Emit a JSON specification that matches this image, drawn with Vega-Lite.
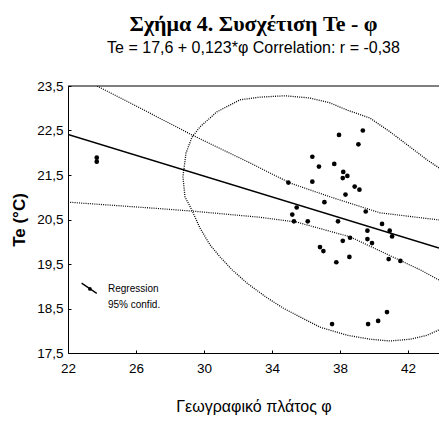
{
  "$schema": "https://vega.github.io/schema/vega-lite/v6.json",
  "width": 371,
  "height": 267,
  "autosize": "none",
  "padding": {"left": 68, "top": 86, "right": 0, "bottom": 68},
  "background": "white",
  "config": {
    "view": {"stroke": null},
    "axis": {"labelFont": "Liberation Sans", "labelFontSize": 13.5, "labelColor": "black", "domainColor": "black", "tickColor": "black", "grid": false}
  },
  "title": {
    "text": "Σχήμα 4.  Συσχέτιση Te - φ",
    "subtitle": "Te = 17,6 + 0,123*φ  Correlation: r = -0,38",
    "font": "Liberation Serif",
    "fontSize": 22,
    "fontWeight": "bold",
    "color": "black",
    "subtitleFont": "Liberation Sans",
    "subtitleFontSize": 16,
    "subtitleColor": "black",
    "subtitlePadding": 4,
    "anchor": "middle",
    "offset": 22
  },
  "datasets": {
    "points": [
      {"phi": 37.94, "te": 22.40}, {"phi": 39.34, "te": 22.50}, {"phi": 39.08, "te": 22.19},
      {"phi": 36.37, "te": 21.91}, {"phi": 36.76, "te": 21.69}, {"phi": 37.66, "te": 21.75},
      {"phi": 38.19, "te": 21.57}, {"phi": 38.43, "te": 21.48}, {"phi": 38.16, "te": 21.43},
      {"phi": 36.37, "te": 21.35}, {"phi": 34.96, "te": 21.33}, {"phi": 38.86, "te": 21.24},
      {"phi": 39.14, "te": 21.17}, {"phi": 38.32, "te": 21.06}, {"phi": 37.08, "te": 20.89},
      {"phi": 35.45, "te": 20.77}, {"phi": 35.19, "te": 20.61}, {"phi": 35.29, "te": 20.46},
      {"phi": 36.10, "te": 20.46}, {"phi": 37.88, "te": 20.46}, {"phi": 39.51, "te": 20.68},
      {"phi": 40.47, "te": 20.40}, {"phi": 39.61, "te": 20.25}, {"phi": 40.92, "te": 20.25},
      {"phi": 41.06, "te": 20.12}, {"phi": 39.61, "te": 20.06}, {"phi": 38.59, "te": 20.09},
      {"phi": 38.16, "te": 20.02}, {"phi": 39.88, "te": 19.97}, {"phi": 36.82, "te": 19.88},
      {"phi": 37.02, "te": 19.79}, {"phi": 37.78, "te": 19.54}, {"phi": 38.55, "te": 19.66},
      {"phi": 40.86, "te": 19.61}, {"phi": 41.55, "te": 19.57}, {"phi": 37.53, "te": 18.15},
      {"phi": 39.65, "te": 18.15}, {"phi": 40.24, "te": 18.22}, {"phi": 40.76, "te": 18.42},
      {"phi": 23.69, "te": 21.89}, {"phi": 23.69, "te": 21.80}
    ],
    "regression": [
      {"phi": 22.0, "te": 22.41}, {"phi": 43.82, "te": 19.86}
    ],
    "frameTop": [
      {"phi": 22.0, "phi2": 43.82, "te": 23.5}
    ],
    "upper": [
      {"phi": 22.0, "te": 23.85}, {"phi": 23.71, "te": 23.5}, {"phi": 26.82, "te": 22.89},
      {"phi": 29.29, "te": 22.40}, {"phi": 32.71, "te": 21.77}, {"phi": 35.06, "te": 21.32},
      {"phi": 37.41, "te": 21.01}, {"phi": 40.35, "te": 20.65}, {"phi": 43.82, "te": 20.49}
    ],
    "lower": [
      {"phi": 22.0, "te": 20.89}, {"phi": 26.82, "te": 20.76}, {"phi": 29.29, "te": 20.69},
      {"phi": 33.29, "te": 20.55}, {"phi": 35.47, "te": 20.44}, {"phi": 38.59, "te": 20.11},
      {"phi": 42.71, "te": 19.37}, {"phi": 43.82, "te": 19.14}
    ],
    "ellipse": [
      {"i": 1, "phi": 43.82, "te": 21.66}, {"i": 2, "phi": 43.12, "te": 21.84}, {"i": 3, "phi": 42.12, "te": 22.13},
      {"i": 4, "phi": 40.94, "te": 22.47}, {"i": 5, "phi": 39.76, "te": 22.78}, {"i": 6, "phi": 38.41, "te": 22.96},
      {"i": 7, "phi": 37.41, "te": 23.12}, {"i": 8, "phi": 36.24, "te": 23.23}, {"i": 9, "phi": 34.76, "te": 23.28},
      {"i": 10, "phi": 33.29, "te": 23.25}, {"i": 11, "phi": 32.12, "te": 23.19}, {"i": 12, "phi": 30.76, "te": 22.92},
      {"i": 13, "phi": 29.76, "te": 22.58}, {"i": 14, "phi": 29.29, "te": 22.35}, {"i": 15, "phi": 28.94, "te": 21.99},
      {"i": 16, "phi": 28.76, "te": 21.46}, {"i": 17, "phi": 28.88, "te": 21.01}, {"i": 18, "phi": 29.29, "te": 20.71},
      {"i": 19, "phi": 29.76, "te": 20.31}, {"i": 20, "phi": 30.35, "te": 19.93}, {"i": 21, "phi": 30.94, "te": 19.66},
      {"i": 22, "phi": 31.65, "te": 19.37}, {"i": 23, "phi": 32.53, "te": 19.07}, {"i": 24, "phi": 33.71, "te": 18.74},
      {"i": 25, "phi": 34.65, "te": 18.51}, {"i": 26, "phi": 35.65, "te": 18.31}, {"i": 27, "phi": 36.82, "te": 18.08},
      {"i": 28, "phi": 38.41, "te": 17.90}, {"i": 29, "phi": 39.76, "te": 17.81}, {"i": 30, "phi": 40.94, "te": 17.77},
      {"i": 31, "phi": 42.12, "te": 17.81}, {"i": 32, "phi": 43.12, "te": 17.90}, {"i": 33, "phi": 43.82, "te": 18.02}
    ],
    "legendIcon": [
      {"phi": 22.8, "te": 19.07}, {"phi": 23.69, "te": 18.84}
    ],
    "legendDot": [
      {"phi": 23.29, "te": 18.94}
    ],
    "legendText": [
      {"phi": 24.35, "te": 18.94, "label": "Regression"},
      {"phi": 24.35, "te": 18.58, "label": "95% confid."}
    ]
  },
  "encoding": {
    "x": {
      "field": "phi", "type": "quantitative",
      "scale": {"domain": [22, 43.82], "nice": false, "zero": false},
      "axis": {
        "values": [22, 26, 30, 34, 38, 42],
        "tickSize": -3,
        "labelPadding": 11,
        "labelFlush": false,
        "title": "Γεωγραφικό πλάτος  φ",
        "titleFont": "Liberation Sans",
        "titleFontSize": 16,
        "titleFontWeight": "normal",
        "titleColor": "black",
        "titlePadding": 24
      }
    },
    "y": {
      "field": "te", "type": "quantitative",
      "scale": {"domain": [17.5, 23.5], "nice": false, "zero": false},
      "axis": {
        "values": [17.5, 18.5, 19.5, 20.5, 21.5, 22.5, 23.5],
        "labelExpr": "replace(format(datum.value, '.1f'), '.', ',')",
        "tickSize": -3,
        "labelPadding": 8,
        "labelFlush": false,
        "title": "Te (°C)",
        "titleFont": "Liberation Sans",
        "titleFontSize": 17,
        "titleFontWeight": "bold",
        "titleColor": "black",
        "titlePadding": 8
      }
    }
  },
  "layer": [
    {
      "data": {"name": "frameTop"},
      "mark": {"type": "rule", "color": "black", "strokeWidth": 1},
      "encoding": {"x2": {"field": "phi2"}}
    },
    {
      "data": {"name": "ellipse"},
      "mark": {"type": "line", "color": "black", "strokeWidth": 1.3, "strokeDash": [1, 1.2], "clip": true},
      "encoding": {"order": {"field": "i", "type": "quantitative"}}
    },
    {
      "data": {"name": "upper"},
      "mark": {"type": "line", "color": "black", "strokeWidth": 1.2, "strokeDash": [1, 1.2], "clip": true},
      "encoding": {}
    },
    {
      "data": {"name": "lower"},
      "mark": {"type": "line", "color": "black", "strokeWidth": 1.2, "strokeDash": [1, 1.2], "clip": true},
      "encoding": {}
    },
    {
      "data": {"name": "regression"},
      "mark": {"type": "line", "color": "black", "strokeWidth": 1.5, "clip": true},
      "encoding": {}
    },
    {
      "data": {"name": "points"},
      "mark": {"type": "point", "shape": "circle", "filled": true, "color": "black", "size": 22, "opacity": 1}
    },
    {
      "data": {"name": "legendIcon"},
      "mark": {"type": "line", "color": "black", "strokeWidth": 1.3},
      "encoding": {}
    },
    {
      "data": {"name": "legendDot"},
      "mark": {"type": "point", "shape": "circle", "filled": true, "color": "black", "size": 14, "opacity": 1}
    },
    {
      "data": {"name": "legendText"},
      "mark": {"type": "text", "align": "left", "baseline": "middle", "font": "Liberation Sans", "fontSize": 10, "color": "black"},
      "encoding": {"text": {"field": "label"}}
    }
  ]
}
